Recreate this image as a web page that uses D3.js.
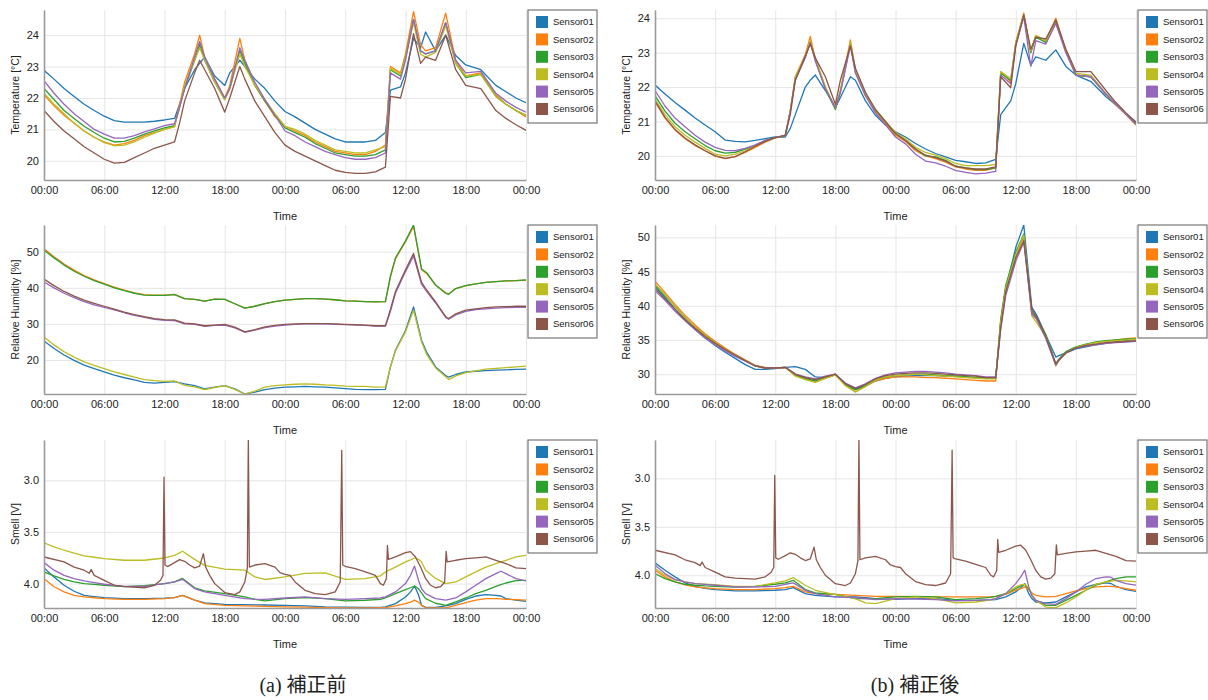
<!DOCTYPE html>
<html>
<head>
<meta charset="utf-8">
<script src="https://cdn.jsdelivr.net/npm/d3@7"></script>
<style>
  body { margin: 0; background: #fff; }
  svg text { font-family: "Liberation Sans", Arial, sans-serif; fill: #222; }
  .caption { font-family: "Liberation Serif", "Noto Sans CJK JP", serif; }
</style>
</head>
<body>
<svg id="chart" width="1208" height="700"></svg>
<script>
const sensorNames = ["Sensor01", "Sensor02", "Sensor03", "Sensor04", "Sensor05", "Sensor06"];
const sensorColors = ["#1f77b4", "#ff7f0e", "#2ca02c", "#bcbd22", "#9467bd", "#8c564b"];
const hourTicks = [0, 6, 12, 18, 24, 30, 36, 42, 48];

// temperature, hours since first 00:00
const tempTimes = [0,1,2,3,4,5,6,7,8,9,10,11,12,13, 13.5,14,15,15.5,16,17,18,18.5,19.5,20,
  21,22,23,24,25,26,27,28,29,30,31,32,33,34, 34.5,35.5,36,36.8,37.5,38,39,40,41,42,43.5,45,46,47,48];

const tempBefore01 = [22.88,22.6,22.3,22.05,21.8,21.6,21.42,21.28,21.23,21.23,21.23,21.26,21.3,21.35,
  21.8,22.3,22.9,23.1,23.3,22.7,22.4,22.8,23.2,23.0,
  22.6,22.3,21.9,21.57,21.4,21.2,21.0,20.85,20.7,20.6,20.6,20.6,20.65,20.9,
  22.25,22.35,22.8,23.9,23.6,24.1,23.5,24.0,23.35,23.05,22.9,22.4,22.2,22.0,21.85];
const tempBefore02 = [22.1,21.75,21.45,21.2,20.95,20.75,20.6,20.5,20.55,20.65,20.8,20.9,21.0,21.1,
  21.8,22.5,23.4,24.0,23.3,22.6,22.0,22.4,23.9,23.2,
  22.4,21.9,21.4,21.1,20.95,20.8,20.6,20.45,20.3,20.25,20.2,20.2,20.3,20.5,
  23.0,22.8,23.4,24.75,23.7,23.5,23.6,24.7,23.2,22.7,22.8,22.1,21.8,21.6,21.4];
const tempBefore03 = [22.3,21.95,21.6,21.35,21.1,20.9,20.72,20.6,20.62,20.72,20.85,20.95,21.05,21.12,
  21.7,22.3,23.2,23.7,23.2,22.5,21.95,22.3,23.5,23.1,
  22.4,21.9,21.45,21.05,20.9,20.75,20.55,20.4,20.25,20.2,20.15,20.15,20.2,20.35,
  22.9,22.7,23.3,24.5,23.5,23.4,23.5,24.4,23.1,22.65,22.75,22.05,21.8,21.6,21.45];
const tempBefore04 = [22.15,21.8,21.5,21.2,20.95,20.75,20.58,20.48,20.5,20.6,20.75,20.88,21.0,21.08,
  21.7,22.4,23.2,23.6,23.2,22.5,21.95,22.3,23.4,23.0,
  22.4,21.95,21.5,21.1,21.0,20.85,20.65,20.5,20.35,20.3,20.25,20.25,20.35,20.45,
  22.95,22.75,23.3,24.4,23.4,23.3,23.45,24.3,23.1,22.7,22.75,22.05,21.8,21.6,21.45];
const tempBefore05 = [22.55,22.15,21.8,21.5,21.25,21.0,20.85,20.72,20.72,20.8,20.92,21.02,21.12,21.18,
  21.7,22.3,23.3,23.8,23.3,22.6,22.0,22.3,23.6,23.2,
  22.5,21.95,21.45,20.95,20.8,20.6,20.45,20.3,20.2,20.1,20.05,20.05,20.1,20.25,
  22.8,22.6,23.2,24.5,23.5,23.4,23.5,24.4,23.2,22.8,22.85,22.15,21.9,21.7,21.55];
const tempBefore06 = [21.6,21.25,20.95,20.7,20.45,20.25,20.05,19.93,19.95,20.1,20.25,20.4,20.5,20.6,
  21.2,21.9,22.8,23.2,22.9,22.3,21.55,22.0,23.0,22.6,
  21.9,21.4,20.9,20.5,20.3,20.15,20.0,19.85,19.7,19.63,19.6,19.6,19.65,19.8,
  22.05,22.0,22.6,24.05,23.1,23.3,23.2,24.0,22.9,22.4,22.3,21.6,21.35,21.15,20.97];

const tempAfter01 = [22.06,21.8,21.55,21.33,21.1,20.9,20.7,20.46,20.42,20.41,20.45,20.5,20.55,20.55,
  20.8,21.2,22.0,22.2,22.35,21.9,21.4,21.7,22.3,22.2,
  21.6,21.18,20.9,20.7,20.55,20.36,20.2,20.07,19.97,19.87,19.83,19.78,19.8,19.9,
  21.2,21.6,22.1,23.27,22.64,22.88,22.78,23.08,22.6,22.35,22.16,21.72,21.48,21.23,20.99];
const tempAfter02 = [21.57,21.1,20.75,20.5,20.3,20.15,20.0,19.92,19.98,20.1,20.25,20.4,20.52,20.6,
  21.3,22.3,22.95,23.47,22.8,22.0,21.38,21.9,23.37,22.5,
  21.75,21.3,20.95,20.6,20.42,20.15,20.0,19.92,19.82,19.68,19.62,19.58,19.58,19.65,
  22.45,22.15,23.3,24.15,23.0,23.5,23.35,24.0,23.05,22.35,22.3,21.78,21.48,21.2,20.9];
const tempAfter03 = [21.75,21.3,20.95,20.7,20.5,20.3,20.15,20.08,20.1,20.2,20.3,20.45,20.53,20.6,
  21.3,22.25,22.9,23.3,22.8,21.95,21.35,21.85,23.25,22.45,
  21.8,21.33,20.99,20.65,20.45,20.2,20.0,19.97,19.87,19.7,19.65,19.6,19.6,19.65,
  22.4,22.2,23.25,24.1,23.0,23.45,23.3,23.9,23.05,22.35,22.3,21.8,21.5,21.22,20.92];
const tempAfter04 = [21.65,21.2,20.85,20.6,20.4,20.22,20.05,20.0,20.05,20.15,20.3,20.42,20.53,20.6,
  21.3,22.3,22.9,23.35,22.85,22.0,21.4,21.9,23.3,22.5,
  21.8,21.35,21.0,20.68,20.5,20.25,20.1,20.02,19.92,19.78,19.72,19.72,19.72,19.75,
  22.45,22.25,23.3,24.1,23.05,23.5,23.35,23.85,23.1,22.4,22.35,21.8,21.5,21.22,20.95];
const tempAfter05 = [21.9,21.45,21.1,20.85,20.6,20.4,20.25,20.16,20.15,20.22,20.32,20.45,20.53,20.6,
  21.3,22.2,22.85,23.3,22.75,21.95,21.4,21.85,23.2,22.4,
  21.75,21.25,20.9,20.55,20.35,20.05,19.85,19.8,19.7,19.58,19.52,19.48,19.5,19.55,
  22.35,22.1,23.2,24.05,22.6,23.35,23.25,23.85,23.0,22.35,22.3,21.8,21.5,21.2,20.93];
const tempAfter06 = [21.6,21.12,20.77,20.52,20.32,20.15,20.0,19.93,19.98,20.12,20.28,20.42,20.53,20.6,
  21.2,22.2,22.9,23.25,22.85,22.3,21.5,22.2,23.2,22.55,
  21.85,21.35,21.0,20.65,20.45,20.2,20.02,19.95,19.85,19.7,19.65,19.62,19.62,19.68,
  22.3,21.98,23.2,24.1,23.1,23.45,23.4,23.95,23.1,22.45,22.45,21.9,21.55,21.25,20.97];

// relative humidity
const humTimes = [0,1,2,3,4,5,6,7,8,9,10,11,12,13,14,15,16,17,18,19,20,21,22,23,24,25,26,27,28,29,30,31,32,33,34,
  34.5,35,36,36.8,37.6,38.1,39,40,40.3,41,42,43,44,45,46,47,48];

const humBefore01 = [25.3,23.2,21.4,19.9,18.6,17.6,16.7,15.8,15.1,14.5,13.8,13.6,13.8,14.0,13.4,12.9,12.0,12.5,12.9,12.0,
  10.6,11.1,11.8,12.2,12.5,12.6,12.7,12.6,12.5,12.3,12.1,11.9,11.8,11.8,11.9,
  18.1,22.7,28.2,34.7,25.5,22.2,18.1,15.7,15.3,16.0,16.7,16.9,17.1,17.2,17.3,17.4,17.5];
const humBefore02 = [50.8,48.6,46.6,44.9,43.4,42.2,41.2,40.2,39.4,38.6,38.1,38.0,38.0,38.2,37.0,36.8,36.3,36.9,36.8,35.6,
  34.4,34.9,35.6,36.2,36.6,36.8,37.0,37.0,36.9,36.7,36.4,36.3,36.2,36.1,36.2,
  43.0,48.0,52.8,57.0,45.0,44.0,40.7,38.6,38.3,39.8,40.6,41.1,41.5,41.7,41.9,42.0,42.1];
const humBefore03 = [50.4,48.3,46.3,44.6,43.2,42.0,41.0,40.0,39.2,38.5,38.0,37.9,37.9,38.1,37.0,36.8,36.3,36.9,36.8,35.6,
  34.4,34.9,35.6,36.2,36.6,36.8,37.0,37.0,36.9,36.7,36.4,36.3,36.2,36.1,36.2,
  43.3,48.3,53.0,57.4,45.2,44.2,40.8,38.5,38.2,39.8,40.6,41.1,41.5,41.7,41.9,42.0,42.2];
const humBefore04 = [26.4,24.2,22.3,20.8,19.5,18.5,17.6,16.7,16.0,15.3,14.6,14.3,14.1,14.2,13.0,12.6,11.8,12.4,12.9,11.9,
  10.6,11.4,12.5,12.9,13.1,13.3,13.4,13.3,13.1,13.0,12.8,12.7,12.7,12.5,12.6,
  18.1,22.5,27.8,33.8,25.0,21.6,17.8,15.4,14.6,15.6,16.5,17.0,17.5,17.7,17.9,18.1,18.3];
const humBefore05 = [41.6,40.0,38.5,37.3,36.2,35.3,34.6,33.9,33.1,32.4,31.8,31.3,31.0,30.9,30.0,29.9,29.3,29.6,29.7,28.9,
  27.7,28.3,29.0,29.4,29.7,29.9,30.0,30.0,30.0,29.9,29.8,29.7,29.6,29.4,29.4,
  33.5,38.5,44.5,48.8,41.0,39.0,35.8,31.8,31.3,32.5,33.5,34.0,34.2,34.4,34.5,34.6,34.6];
const humBefore06 = [42.4,40.6,39.0,37.7,36.6,35.7,34.9,34.1,33.3,32.6,32.0,31.5,31.2,31.1,30.2,30.0,29.5,29.7,29.9,29.1,
  27.8,28.4,29.2,29.6,29.9,30.0,30.1,30.1,30.1,30.0,29.9,29.8,29.7,29.5,29.5,
  34.0,39.0,45.0,49.5,41.5,39.4,36.1,32.0,31.5,32.8,33.8,34.2,34.5,34.7,34.8,34.9,34.9];

const humAfter01 = [42.8,41.2,39.5,38.0,36.6,35.3,34.2,33.2,32.3,31.4,30.7,30.7,30.8,31.0,31.1,30.7,29.6,29.5,29.9,28.5,
  27.8,28.3,29.0,29.4,29.6,29.7,29.8,29.8,29.8,29.7,29.7,29.6,29.5,29.5,29.5,
  37.5,42.5,48.5,51.8,39.8,38.6,35.7,32.5,32.7,33.1,33.7,34.0,34.3,34.5,34.7,34.9,35.1];
const humAfter02 = [43.6,41.9,40.2,38.6,37.2,35.9,34.8,33.8,32.9,32.1,31.3,31.0,30.9,31.0,29.8,29.3,28.9,29.4,29.9,28.4,
  27.4,28.2,29.0,29.4,29.6,29.6,29.6,29.5,29.5,29.4,29.3,29.2,29.1,29.0,29.0,
  37.8,42.5,47.3,50.0,39.2,38.0,35.4,31.4,32.1,33.2,33.9,34.3,34.6,34.8,35.0,35.2,35.3];
const humAfter03 = [43.0,41.5,39.9,38.3,36.9,35.7,34.6,33.6,32.8,32.0,31.2,30.9,30.9,31.0,29.9,29.4,29.0,29.5,30.0,28.5,
  27.7,28.3,29.1,29.6,29.8,29.9,30.0,30.0,29.9,29.8,29.7,29.6,29.5,29.4,29.4,
  38.0,43.0,47.8,50.5,39.0,38.2,35.8,31.5,32.2,33.3,34.0,34.4,34.7,34.9,35.0,35.1,35.2];
const humAfter04 = [43.2,41.6,39.9,38.3,36.9,35.7,34.6,33.6,32.8,32.0,31.2,30.9,30.9,31.0,29.7,29.2,28.8,29.4,29.9,28.3,
  27.4,28.2,29.1,29.6,29.8,29.9,30.0,29.9,29.8,29.7,29.6,29.5,29.4,29.3,29.3,
  37.5,42.5,47.5,50.3,38.5,37.5,35.5,31.2,32.0,33.1,33.9,34.3,34.6,34.8,34.9,35.0,35.1];
const humAfter05 = [42.2,40.8,39.2,37.8,36.5,35.3,34.3,33.4,32.6,31.9,31.2,30.9,30.9,31.0,30.0,29.6,29.3,29.7,30.0,28.7,
  28.0,28.6,29.4,29.9,30.2,30.3,30.4,30.4,30.3,30.2,30.0,29.9,29.8,29.6,29.6,
  36.5,41.5,46.5,49.3,38.8,38.0,35.2,31.3,32.0,33.1,33.8,34.1,34.3,34.5,34.6,34.7,34.8];
const humAfter06 = [42.5,41.0,39.5,38.0,36.7,35.5,34.5,33.6,32.8,32.0,31.2,30.9,30.9,31.0,30.0,29.5,29.2,29.6,30.0,28.6,
  27.9,28.5,29.3,29.8,30.0,30.1,30.2,30.2,30.1,30.0,29.9,29.8,29.7,29.5,29.5,
  36.8,42.0,47.0,49.5,39.5,38.3,35.5,31.5,32.1,33.1,33.8,34.2,34.4,34.6,34.7,34.8,34.9];

// smell sensor voltage
const smellTimes = [0,1,2,3,4,5,6,8,10,12,13,13.8,15,16,18,20,21,22,24,26,28,30,32,33.5,34,35,36,36.5,36.9,37.3,37.6,
  38,39,40,41,42,43,44,45,45.5,46,47,48];

const smellBefore01 = [3.848,3.935,4.016,4.074,4.113,4.125,4.135,4.145,4.145,4.14,4.135,4.113,4.16,4.187,4.2,4.203,4.205,4.207,
  4.21,4.215,4.226,4.228,4.23,4.23,4.226,4.194,4.13,4.08,4.023,4.11,4.21,4.23,4.23,4.216,4.194,4.152,4.12,4.106,4.113,4.12,
  4.145,4.16,4.171];
const smellBefore02 = [3.952,4.03,4.08,4.113,4.129,4.137,4.145,4.152,4.152,4.145,4.135,4.113,4.16,4.194,4.21,4.216,4.218,4.22,
  4.226,4.228,4.232,4.235,4.235,4.233,4.232,4.216,4.194,4.18,4.16,4.18,4.21,4.232,4.235,4.235,4.21,4.184,4.16,4.145,4.145,4.148,
  4.152,4.155,4.16];
const smellBefore03 = [3.887,3.926,3.958,3.984,4.0,4.008,4.016,4.03,4.02,4.0,3.984,3.95,4.04,4.071,4.097,4.129,4.152,4.168,
  4.145,4.135,4.145,4.168,4.161,4.152,4.139,4.097,4.058,4.04,4.023,4.05,4.09,4.145,4.19,4.21,4.177,4.139,4.097,4.065,4.026,4.01,
  3.994,3.971,3.968];
const smellBefore04 = [3.606,3.645,3.677,3.706,3.732,3.745,3.758,3.774,3.774,3.752,3.726,3.687,3.765,3.823,3.86,3.87,3.935,3.96,
  3.935,3.90,3.897,3.958,3.952,3.925,3.887,3.84,3.79,3.77,3.752,3.765,3.79,3.87,3.95,4.0,3.984,3.935,3.887,3.84,3.806,3.79,
  3.774,3.742,3.726];
const smellBefore05 = [3.797,3.87,3.92,3.952,3.974,3.99,4.006,4.026,4.026,4.0,3.984,3.958,4.048,4.08,4.113,4.145,4.15,4.152,
  4.139,4.129,4.145,4.152,4.145,4.139,4.129,4.08,4.0,3.92,3.83,3.97,4.05,4.097,4.145,4.16,4.139,4.08,4.016,3.952,3.903,3.88,
  3.903,3.952,3.974];

const smellAfter01 = [3.872,3.948,4.017,4.079,4.114,4.135,4.148,4.162,4.162,4.155,4.148,4.128,4.19,4.207,4.224,4.224,4.232,4.241,
  4.25,4.241,4.241,4.259,4.259,4.255,4.252,4.224,4.172,4.13,4.086,4.19,4.24,4.276,4.286,4.276,4.224,4.172,4.12,4.093,4.079,4.085,
  4.114,4.148,4.166];
const smellAfter02 = [3.948,4.017,4.069,4.1,4.121,4.13,4.138,4.148,4.148,4.138,4.128,4.114,4.172,4.19,4.197,4.207,4.212,4.217,
  4.217,4.22,4.224,4.224,4.224,4.22,4.217,4.197,4.155,4.138,4.121,4.15,4.18,4.207,4.224,4.217,4.19,4.162,4.138,4.121,4.114,4.114,
  4.121,4.138,4.155];
const smellAfter03 = [3.983,4.034,4.069,4.093,4.103,4.11,4.114,4.121,4.114,4.093,4.079,4.052,4.148,4.183,4.197,4.241,4.241,4.241,
  4.224,4.217,4.224,4.252,4.241,4.228,4.217,4.19,4.138,4.11,4.093,4.14,4.2,4.259,4.31,4.31,4.259,4.207,4.155,4.103,4.069,4.05,
  4.034,4.017,4.017];
const smellAfter04 = [3.931,4.0,4.045,4.069,4.086,4.092,4.097,4.114,4.114,4.079,4.058,4.024,4.103,4.155,4.2,4.241,4.286,4.293,
  4.241,4.224,4.241,4.286,4.276,4.255,4.241,4.19,4.121,4.1,4.093,4.13,4.2,4.259,4.328,4.335,4.286,4.224,4.155,4.093,4.069,4.06,
  4.052,4.058,4.069];
const smellAfter05 = [3.897,3.983,4.045,4.069,4.086,4.095,4.103,4.121,4.121,4.114,4.093,4.079,4.155,4.19,4.224,4.231,4.24,4.252,
  4.241,4.245,4.252,4.265,4.259,4.252,4.241,4.19,4.086,4.017,3.948,4.12,4.21,4.259,4.293,4.3,4.241,4.172,4.093,4.034,4.017,4.02,
  4.052,4.086,4.103];

// Sensor06 smell is the same trace in both columns, with short spikes
const smellS06 = [[0,3.742],[2,3.79],[3,3.84],[4,3.87],[4.5,3.90],[4.7,3.865],[5,3.92],[6,3.968],[7,4.016],[8,4.03],
  [10,4.04],[11,4.016],[11.6,3.968],[11.85,3.92],[11.95,2.97],[12.05,3.82],[12.3,3.835],[13,3.797],[13.5,3.768],[14,3.784],
  [14.5,3.82],[15,3.848],[15.5,3.83],[15.87,3.71],[16.1,3.84],[16.5,3.92],[17,4.0],[18,4.087],[19,4.106],[19.5,4.08],
  [20,3.984],[20.25,3.85],[20.35,2.58],[20.45,3.84],[21,3.82],[22,3.806],[23,3.84],[23.5,3.894],[24,3.91],[24.5,3.92],
  [25,3.984],[26,4.065],[27,4.097],[28,4.106],[29,4.08],[29.5,3.984],[29.65,2.71],[29.75,3.82],[30,3.832],[31,3.855],
  [32,3.887],[33,3.92],[33.5,4.0],[33.8,4.016],[34.1,3.95],[34.2,3.63],[34.3,3.765],[35,3.742],[36,3.70],[36.5,3.69],
  [37,3.742],[37.5,3.84],[38,3.95],[38.5,4.016],[39,4.04],[39.5,4.03],[39.9,3.984],[40.05,3.687],[40.15,3.79],[41,3.774],
  [42,3.758],[43,3.75],[44,3.742],[45,3.774],[46,3.806],[47,3.848],[48,3.855]];

const zip = (times, vals) => times.map((t, i) => [t, vals[i]]);

const cols = [
  { x0: 44, x1: 526, legendX: 528, titleX: 15, caption: "(a) 補正前", captionX: 303 },
  { x0: 655, x1: 1136, legendX: 1138, titleX: 626, caption: "(b) 補正後", captionX: 915 }
];
const rows = [{ y0: 10, y1: 180 }, { y0: 225, y1: 394 }, { y0: 440, y1: 608 }];

const panels = [
  { col: 0, row: 0, title: "Temperature [°C]", bottom: 19.39, top: 24.8, ticks: [20, 21, 22, 23, 24], fmt: d3.format("d"),
    series: [tempBefore01, tempBefore02, tempBefore03, tempBefore04, tempBefore05, tempBefore06].map(v => zip(tempTimes, v)) },
  { col: 1, row: 0, title: "Temperature [°C]", bottom: 19.3, top: 24.24, ticks: [20, 21, 22, 23, 24], fmt: d3.format("d"),
    series: [tempAfter01, tempAfter02, tempAfter03, tempAfter04, tempAfter05, tempAfter06].map(v => zip(tempTimes, v)) },
  { col: 0, row: 1, title: "Relative Humidity [%]", bottom: 10.6, top: 57.4, ticks: [20, 30, 40, 50], fmt: d3.format("d"),
    series: [humBefore01, humBefore02, humBefore03, humBefore04, humBefore05, humBefore06].map(v => zip(humTimes, v)) },
  { col: 1, row: 1, title: "Relative Humidity [%]", bottom: 27.1, top: 51.8, ticks: [30, 35, 40, 45, 50], fmt: d3.format("d"),
    series: [humAfter01, humAfter02, humAfter03, humAfter04, humAfter05, humAfter06].map(v => zip(humTimes, v)) },
  { col: 0, row: 2, title: "Smell [V]", bottom: 4.236, top: 2.61, ticks: [3.0, 3.5, 4.0], fmt: d3.format(".1f"),
    series: [smellBefore01, smellBefore02, smellBefore03, smellBefore04, smellBefore05].map(v => zip(smellTimes, v)).concat([smellS06]) },
  { col: 1, row: 2, title: "Smell [V]", bottom: 4.338, top: 2.604, ticks: [3.0, 3.5, 4.0], fmt: d3.format(".1f"),
    series: [smellAfter01, smellAfter02, smellAfter03, smellAfter04, smellAfter05].map(v => zip(smellTimes, v)).concat([smellS06]) }
];

const svg = d3.select("#chart");
const hourFmt = h => String(h % 24).padStart(2, "0") + ":00";

panels.forEach((p, pi) => {
  const c = cols[p.col], r = rows[p.row];
  const x = d3.scaleLinear().domain([0, 48]).range([c.x0, c.x1]);
  const y = d3.scaleLinear().domain([p.bottom, p.top]).range([r.y1, r.y0]);
  const g = svg.append("g");

  // grid
  g.append("g")
    .attr("transform", `translate(0,${r.y1})`)
    .call(d3.axisBottom(x).tickValues(hourTicks).tickSize(-(r.y1 - r.y0)).tickFormat(""))
    .call(s => s.select(".domain").remove())
    .selectAll("line").attr("stroke", "#e6e6e6");
  g.append("g")
    .attr("transform", `translate(${c.x0},0)`)
    .call(d3.axisLeft(y).tickValues(p.ticks).tickSize(-(c.x1 - c.x0)).tickFormat(""))
    .call(s => s.select(".domain").remove())
    .selectAll("line").attr("stroke", "#e6e6e6");

  // lines
  const clipId = "clip" + pi;
  svg.append("clipPath").attr("id", clipId)
    .append("rect").attr("x", c.x0).attr("y", r.y0).attr("width", c.x1 - c.x0).attr("height", r.y1 - r.y0);
  const line = d3.line().x(d => x(d[0])).y(d => y(d[1]));
  g.append("g").attr("clip-path", `url(#${clipId})`)
    .selectAll("path")
    .data(p.series)
    .join("path")
    .attr("d", line)
    .attr("fill", "none")
    .attr("stroke", (d, i) => sensorColors[i])
    .attr("stroke-width", 1.3)
    .attr("stroke-linejoin", "round");

  // axes
  const xAxis = g.append("g")
    .attr("transform", `translate(0,${r.y1})`)
    .call(d3.axisBottom(x).tickValues(hourTicks).tickFormat(hourFmt).tickSize(0).tickPadding(6));
  const yAxis = g.append("g")
    .attr("transform", `translate(${c.x0},0)`)
    .call(d3.axisLeft(y).tickValues(p.ticks).tickFormat(p.fmt).tickSize(0).tickPadding(5));
  [xAxis, yAxis].forEach(a => {
    a.select(".domain").attr("stroke", "#9a9a9a").attr("stroke-width", 1.6);
    a.selectAll("text").attr("font-size", 11).attr("fill", "#222")
      .attr("font-family", "'Liberation Sans', Arial, sans-serif");
  });

  g.append("text")
    .attr("x", (c.x0 + c.x1) / 2).attr("y", r.y1 + 40)
    .attr("text-anchor", "middle").attr("font-size", 11)
    .text("Time");
  g.append("text")
    .attr("transform", `translate(${c.titleX},${(r.y0 + r.y1) / 2}) rotate(-90)`)
    .attr("text-anchor", "middle").attr("dy", "0.35em").attr("font-size", 10.5)
    .text(p.title);

  // legend
  const lg = g.append("g").attr("transform", `translate(${c.legendX},${r.y0})`);
  lg.append("rect").attr("width", 69).attr("height", 113)
    .attr("fill", "#fff").attr("stroke", "#777").attr("stroke-width", 1.2);
  const item = lg.selectAll("g.item").data(sensorNames).join("g")
    .attr("class", "item")
    .attr("transform", (d, i) => `translate(8,${6 + i * 17.4})`);
  item.append("rect").attr("width", 12).attr("height", 12).attr("fill", (d, i) => sensorColors[i]);
  item.append("text").attr("x", 17).attr("y", 6).attr("dy", "0.35em")
    .attr("font-size", 9.5).text(d => d);
});

cols.forEach(c => {
  svg.append("text")
    .attr("class", "caption")
    .attr("x", c.captionX).attr("y", 692)
    .attr("text-anchor", "middle").attr("font-size", 20)
    .text(c.caption);
});
</script>
</body>
</html>
